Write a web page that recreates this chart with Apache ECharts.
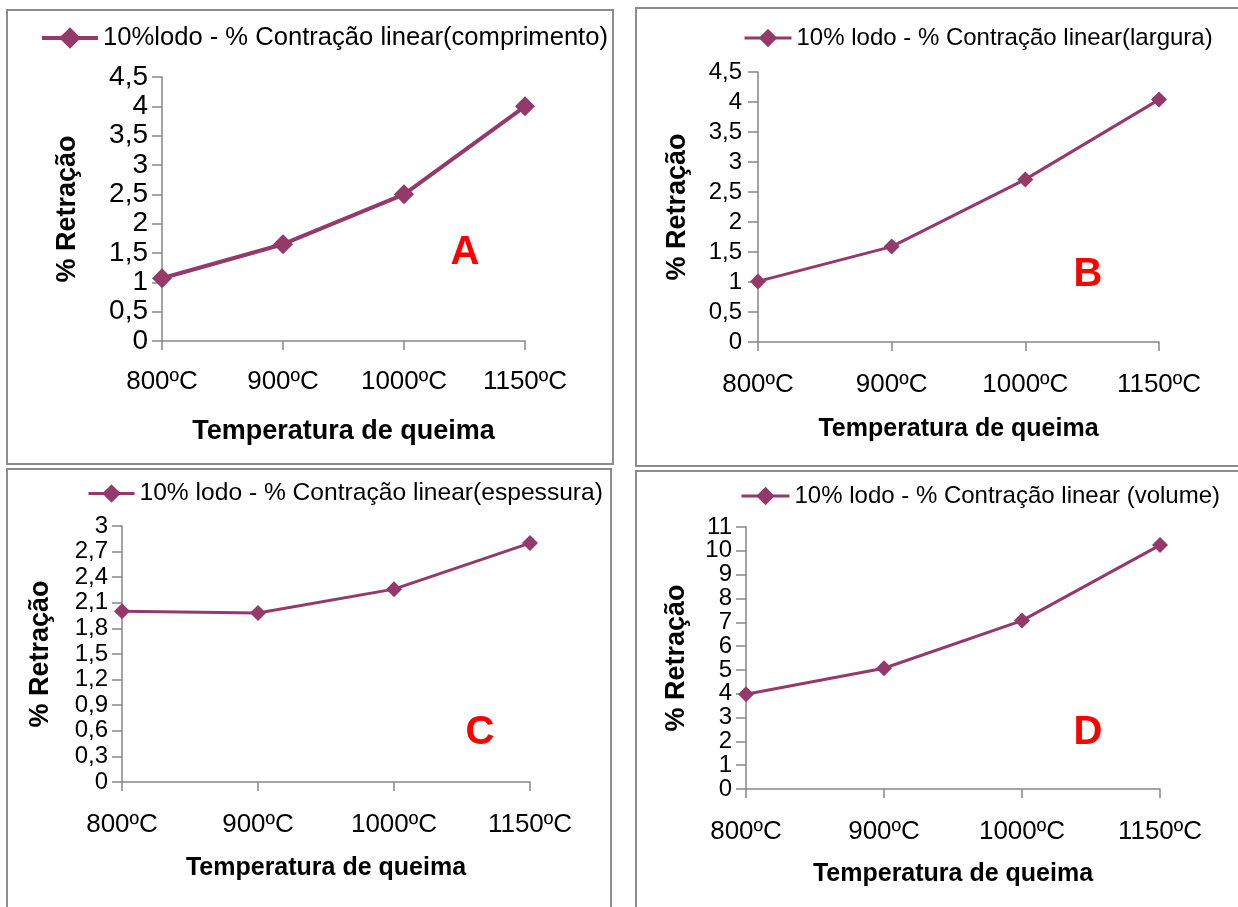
<!DOCTYPE html>
<html>
<head>
<meta charset="utf-8">
<script src="https://cdn.jsdelivr.net/npm/echarts@6/dist/echarts.min.js"></script>
<style>
  html, body { margin: 0; padding: 0; background: #fff; }
  #chart { width: 1238px; height: 907px; }
</style>
</head>
<body>
<div id="chart"></div>
<script>
// Firing temperatures shared by all four panels
const categories = ['800ºC', '900ºC', '1000ºC', '1150ºC'];

// Linear shrinkage (%) with 10% sludge
const comprimento = [1.07, 1.65, 2.5, 4.0];
const largura = [1.01, 1.59, 2.71, 4.04];
const espessura = [2.0, 1.98, 2.26, 2.8];
const volume = [3.98, 5.07, 7.07, 10.24];

const seriesNames = [
  '10%lodo - % Contração linear(comprimento)',
  '10% lodo - % Contração linear(largura)',
  '10% lodo - % Contração linear(espessura)',
  '10% lodo - % Contração linear (volume)'
];
const panelLetters = ['A', 'B', 'C', 'D'];

// Value-axis ranges and tick steps
const yMax = [4.5, 4.5, 3, 11];
const yStep = [0.5, 0.5, 0.3, 1];

const xTitle = 'Temperatura de queima';
const yTitle = '% Retração';

const values = [comprimento, largura, espessura, volume];

const LINE = '#95386A';
const AXIS = '#868686';
const NARROW = '"Liberation Sans Narrow", "Arial Narrow", "Liberation Sans", sans-serif';
const BOLD = '"Liberation Sans", Arial, sans-serif';

// layout per panel
const layout = [
  { grid: { left: 162, top: 77, width: 363, height: 264 }, tick: 28, xl: 26, leg: { left: 40, top: 25 }, legFont: 25.6, legW: 56, legH: 27, legLw: 4, sym: 20, lw: 4,
    box: [7, 10, 606, 454], letter: [465, 253], yGap: 81, xGap: 77, xMargin: 28, yMargin: 14, title: 27, yTitleSize: 27 },
  { grid: { left: 758, top: 72, width: 401, height: 270 }, tick: 24, xl: 26, leg: { left: 743, top: 26 }, legFont: 24, legW: 47, legH: 23, legLw: 3, sym: 16, lw: 3,
    box: [636, 8, 620, 458], letter: [1088, 275], yGap: 67, xGap: 75, xMargin: 30, yMargin: 16, title: 25, yTitleSize: 27 },
  { grid: { left: 122, top: 526, width: 408, height: 256 }, tick: 24, xl: 26, leg: { left: 87, top: 481 }, legFont: 24.6, legW: 46, legH: 23, legLw: 3, sym: 16, lw: 3,
    box: [7, 469, 604, 460], letter: [480, 733], yGap: 68, xGap: 74, xMargin: 30, yMargin: 14, title: 25, yTitleSize: 27 },
  { grid: { left: 746, top: 527, width: 414, height: 262 }, tick: 24, xl: 26, leg: { left: 740, top: 484 }, legFont: 24, legW: 48, legH: 23, legLw: 3, sym: 16, lw: 3,
    box: [636, 471, 620, 460], letter: [1088, 733], yGap: 56, xGap: 73, xMargin: 30, yMargin: 14, title: 25, yTitleSize: 27 }
];

function fmt(v) {
  return String(Number(v.toFixed(1))).replace('.', ',');
}

const option = {
  backgroundColor: '#fff',
  animation: false,
  grid: [], xAxis: [], yAxis: [], series: [], legend: [],
  graphic: []
};

layout.forEach((L, i) => {
  option.grid.push(Object.assign({ containLabel: false }, L.grid));
  option.xAxis.push({
    type: 'category', gridIndex: i, data: categories, boundaryGap: false,
    axisLine: { show: true, lineStyle: { color: AXIS, width: 1.5 } },
    axisTick: { show: true, length: 9, lineStyle: { color: AXIS, width: 1.5 } },
    axisLabel: { color: '#000', fontFamily: NARROW, fontSize: L.xl, margin: L.xMargin },
    splitLine: { show: false },
    name: xTitle, nameLocation: 'middle', nameGap: L.xGap,
    nameTextStyle: { color: '#000', fontFamily: BOLD, fontWeight: 'bold', fontSize: L.title }
  });
  option.yAxis.push({
    type: 'value', gridIndex: i, min: 0, max: yMax[i], interval: yStep[i],
    axisLine: { show: true, lineStyle: { color: AXIS, width: 1.5 } },
    axisTick: { show: true, length: 10, lineStyle: { color: AXIS, width: 1.5 } },
    axisLabel: { color: '#000', fontFamily: NARROW, fontSize: L.tick, margin: L.yMargin, formatter: fmt },
    splitLine: { show: false },
    name: yTitle, nameLocation: 'middle', nameGap: L.yGap, nameRotate: 90,
    nameTextStyle: { color: '#000', fontFamily: BOLD, fontWeight: 'bold', fontSize: L.yTitleSize }
  });
  option.series.push({
    type: 'line', name: seriesNames[i], xAxisIndex: i, yAxisIndex: i,
    data: values[i], symbol: 'diamond', symbolSize: L.sym,
    lineStyle: { color: LINE, width: L.lw }, itemStyle: { color: LINE },
    emphasis: { disabled: true }
  });
  option.legend.push({
    data: [seriesNames[i]], left: L.leg.left, top: L.leg.top, padding: 0,
    itemWidth: L.legW, itemHeight: L.legH, itemGap: 4,
    lineStyle: { width: L.legLw },
    textStyle: { color: '#000', fontFamily: NARROW, fontSize: L.legFont, padding: [0, 0, 0, 0] }
  });
  option.graphic.push({
    type: 'rect', shape: { x: L.box[0], y: L.box[1], width: L.box[2], height: L.box[3] },
    style: { fill: 'none', stroke: '#8c8c8c', lineWidth: 2 }, z: 0, silent: true
  });
  option.graphic.push({
    type: 'text', x: L.letter[0], y: L.letter[1],
    style: { text: panelLetters[i], fill: '#ff0000', font: 'bold 40px ' + BOLD, textAlign: 'center', textVerticalAlign: 'middle' },
    silent: true
  });
});

const chart = echarts.init(document.getElementById('chart'), null, { renderer: 'canvas' });
chart.setOption(option);
</script>
</body>
</html>
